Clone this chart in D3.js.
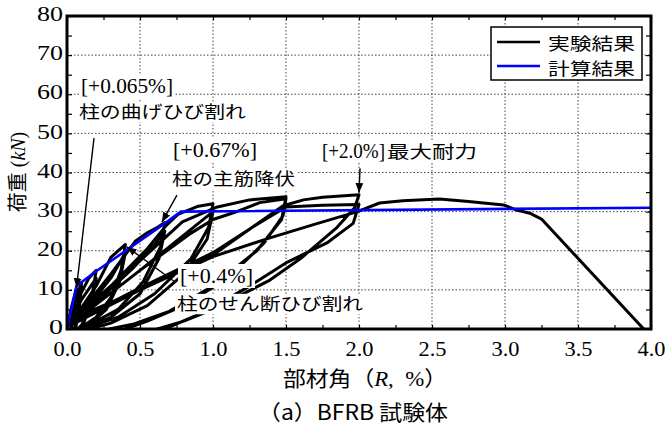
<!DOCTYPE html>
<html>
<head>
<meta charset="utf-8">
<script src="https://cdn.jsdelivr.net/npm/d3@7"></script>
<style>
body { margin: 0; background: #fff; }
</style>
</head>
<body>
<svg id="chart" width="665" height="428"></svg>
<script>
'use strict';

// Experimental hysteresis, one array per loading cycle: [drift R (%), load (kN)]
// points below zero are the negative side of the cycle, they are clipped away
var cyc0065 = [[0,0],[0.03,5.5],[0.065,10.3],[0.05,5],[0.035,1],[0.03,0],[-0.065,-10]];
var cyc010a = [[0,1.5],[0.05,7],[0.1,11.8],[0.08,5],[0.06,1],[0.05,0],[-0.1,-11.5]];
var cyc010b = [[0,1],[0.06,6.5],[0.1,10.8],[0.08,4],[0.06,0.5],[0.05,0],[-0.1,-10.5]];
var cyc020a = [[0,1.5],[0.08,8],[0.15,13],[0.2,15],[0.17,8],[0.12,2],[0.08,0],[-0.2,-14]];
var cyc020b = [[0,1],[0.1,7.5],[0.2,13],[0.16,6],[0.1,1],[0.07,0],[-0.2,-13]];
var cyc040a = [[0,0.5],[0.1,5.5],[0.2,11],[0.3,18.3],[0.4,21.6],[0.37,15],[0.3,8],[0.2,3],[0.1,0.5],[0.06,0],[-0.4,-21]];
var cyc040b = [[0,0.5],[0.15,6],[0.3,13],[0.4,19.5],[0.36,12],[0.27,5],[0.15,1],[0.08,0],[-0.4,-19.5]];
var cyc067a = [[0,1],[0.15,7],[0.3,14],[0.4,19],[0.47,22.5],[0.55,24.6],[0.62,26],[0.67,27.2],[0.64,21],[0.52,12],[0.35,5],[0.15,1],[0.07,0],[-0.67,-27]];
var cyc067b = [[0,0.5],[0.25,8.5],[0.45,15.5],[0.6,21.5],[0.67,25],[0.63,18],[0.5,9],[0.3,3],[0.12,0],[-0.67,-25]];
var cyc100a = [[0,1],[0.3,11],[0.55,20.5],[0.68,26.5],[0.76,29.3],[0.9,31.4],[1.0,32],[0.97,26],[0.85,18],[0.6,9],[0.35,3],[0.09,0],[-1.0,-32]];
var cyc100b = [[0,0.5],[0.5,15],[0.8,24],[1.0,30],[0.96,23],[0.8,14],[0.55,6],[0.3,1.5],[0.15,0],[-1.0,-30]];
var cyc150a = [[0,1],[0.4,14],[0.79,27.4],[1.03,31.2],[1.25,33],[1.5,33.8],[1.47,28],[1.3,20],[1.0,11],[0.7,4.5],[0.45,1.2],[0.29,0],[-1.5,-33]];
var cyc150b = [[0,0.5],[0.5,15],[0.85,24.5],[1.0,28],[1.14,29.7],[1.32,32.3],[1.5,33.3],[1.48,29],[1.35,22],[1.1,13],[0.8,6],[0.55,2],[0.4,0],[-1.5,-31]];
var cyc200a = [[0,0.5],[0.5,10],[0.98,18.4],[1.25,25.5],[1.48,31.5],[1.62,33],[1.75,33.7],[2.0,34.3],[1.97,31],[1.85,26],[1.6,18],[1.39,12.5],[1.0,5],[0.8,2],[0.62,0],[-2.0,-34]];
var cyc200b = [[0,1],[0.5,10.5],[1.0,19.5],[1.27,26],[1.5,31.2],[1.75,31.6],[2.0,31.8],[1.96,27],[1.78,22],[1.51,17.1],[1.23,10.5],[0.95,4.5],[0.67,0],[-2.0,-31]];
var pushOver = [[0,2],[0.5,10],[1.0,18.5],[1.39,23.3],[1.7,26.8],[1.99,30],[2.14,32.2],[2.3,32.8],[2.55,33.2],[2.75,32.6],[2.99,31.7],[3.08,30.4],[3.17,29.6],[3.25,28.1],[3.95,0]];

// Calculated skeleton curve
var calcR = [0, 0.065, 0.19, 0.44, 0.67, 0.78, 4.0];
var calcP = [0, 11, 14.5, 21, 27, 30, 31];

// Axis ticks
var xTicks = [0, 0.5, 1.0, 1.5, 2.0, 2.5, 3.0, 3.5, 4.0];
var yTicks = [0, 10, 20, 30, 40, 50, 60, 70, 80];

var SERIF = '"Liberation Serif", "DejaVu Serif", serif';
var SANS = '"Noto Sans CJK JP", "Noto Sans", sans-serif';

var cycles = [cyc0065, cyc010a, cyc010b, cyc020a, cyc020b, cyc040a, cyc040b,
  cyc067a, cyc067b, cyc100a, cyc100b, cyc150a, cyc150b, cyc200a, cyc200b, pushOver];
var expData = d3.merge(cycles);
var calcData = calcR.map(function(r, i) { return [r, calcP[i]]; });

var svg = d3.select('#chart');
var x = d3.scaleLinear().domain([0, 4]).range([67, 651]);
var y = d3.scaleLinear().domain([0, 80]).range([329, 16]);

svg.append('defs').append('clipPath').attr('id', 'plotClip')
  .append('rect')
  .attr('x', x(0)).attr('y', y(80))
  .attr('width', x(4) - x(0)).attr('height', y(0) - y(80));

// dotted grid
var grid = svg.append('g').attr('stroke', '#444').attr('stroke-width', 1).attr('stroke-dasharray', '1.5,2');
grid.selectAll('.gx').data(xTicks.slice(1, -1)).enter().append('line')
  .attr('x1', x).attr('x2', x).attr('y1', y(0)).attr('y2', y(80));
grid.selectAll('.gy').data(yTicks.slice(1, -1)).enter().append('line')
  .attr('y1', y).attr('y2', y).attr('x1', x(0)).attr('x2', x(4));

// inward minor ticks on all four sides
var xMinor = d3.range(0, 4.001, 0.25);
var yMinor = d3.range(0, 80.001, 5);
function tickOnly(axis, tx, ty) {
  var g = svg.append('g').attr('transform', 'translate(' + tx + ',' + ty + ')').call(axis);
  g.select('.domain').remove();
  g.selectAll('line').attr('stroke', '#000').attr('stroke-width', 1.2);
  return g;
}
tickOnly(d3.axisBottom(x).tickValues(xMinor).tickSize(-4).tickFormat(''), 0, y(0));
tickOnly(d3.axisTop(x).tickValues(xMinor).tickSize(-4).tickFormat(''), 0, y(80));
tickOnly(d3.axisLeft(y).tickValues(yMinor).tickSize(-5).tickFormat(''), x(0), 0);
tickOnly(d3.axisRight(y).tickValues(yMinor).tickSize(-5).tickFormat(''), x(4), 0);

// tick labels (serif, a little wide like the original)
var xAxis = svg.append('g').attr('transform', 'translate(0,' + y(0) + ')')
  .call(d3.axisBottom(x).tickValues(xTicks).tickFormat(d3.format('.1f')).tickSize(0).tickPadding(12));
xAxis.select('.domain').remove();
xAxis.selectAll('text')
  .style('font-family', SERIF).style('font-size', '21px').attr('fill', '#000')
  .attr('textLength', 28).attr('lengthAdjust', 'spacingAndGlyphs');

var yAxis = svg.append('g').attr('transform', 'translate(' + x(0) + ',0)')
  .call(d3.axisLeft(y).tickValues(yTicks).tickSize(0).tickPadding(4));
yAxis.select('.domain').remove();
yAxis.selectAll('text')
  .style('font-family', SERIF).style('font-size', '21px').attr('fill', '#000')
  .attr('dy', '0.22em')
  .attr('textLength', function(d) { return d < 10 ? 14 : 26; })
  .attr('lengthAdjust', 'spacingAndGlyphs');

// curves
var line = d3.line().x(function(d) { return x(d[0]); }).y(function(d) { return y(d[1]); });
var plot = svg.append('g').attr('clip-path', 'url(#plotClip)');
plot.append('path').datum(expData)
  .attr('d', line).attr('fill', 'none').attr('stroke', '#000')
  .attr('stroke-width', 3).attr('stroke-linejoin', 'round');
plot.append('path').datum(calcData)
  .attr('d', line).attr('fill', 'none').attr('stroke', '#0000ff')
  .attr('stroke-width', 2.6);

// frame
svg.append('rect')
  .attr('x', x(0)).attr('y', y(80))
  .attr('width', x(4) - x(0)).attr('height', y(0) - y(80))
  .attr('fill', 'none').attr('stroke', '#000').attr('stroke-width', 3);

// annotation texts on white boxes: [text, x, baseline, width, font, size]
var notes = [
  ['[+0.065%]', 81, 93, 92, SERIF, 20],
  ['柱の曲げひび割れ', 79, 118, 167, SANS, 17],
  ['[+0.67%]', 173, 157, 84, SERIF, 20],
  ['柱の主筋降伏', 172, 185, 123, SANS, 17],
  ['[+2.0%]', 322, 158, 63, SERIF, 20],
  ['最大耐力', 387, 158, 90, SANS, 17],
  ['[+0.4%]', 180, 283, 73, SERIF, 20],
  ['柱のせん断ひび割れ', 177, 310, 186, SANS, 17]
];
var noteG = svg.append('g');
var noteBox = noteG.append('g');
var noteText = noteG.selectAll('text').data(notes).enter().append('text')
  .attr('x', function(d) { return d[1]; })
  .attr('y', function(d) { return d[2]; })
  .attr('textLength', function(d) { return d[3]; })
  .attr('lengthAdjust', 'spacingAndGlyphs')
  .attr('fill', '#000')
  .style('font-family', function(d) { return d[4]; })
  .style('font-size', function(d) { return d[5] + 'px'; })
  .text(function(d) { return d[0]; });
noteText.each(function(d) {
  // box from cap height to just below baseline
  noteBox.append('rect')
    .attr('x', d[1] - 2).attr('y', d[2] - d[5] * 0.95)
    .attr('width', d[3] + 4).attr('height', d[5] * 1.2)
    .attr('fill', '#fff');
});

// annotation arrows (from, to) in data units
svg.append('defs').append('marker').attr('id', 'arr')
  .attr('viewBox', '0 0 10 10').attr('refX', 10).attr('refY', 5)
  .attr('markerWidth', 7).attr('markerHeight', 7).attr('orient', 'auto')
  .append('path').attr('d', 'M0,1L10,5L0,9Z').attr('fill', '#000');
var arrows = [
  [[0.185, 48.8], [0.065, 10.5]],
  [[0.753, 34.2], [0.65, 27.3]],
  [[2.007, 41.1], [2.0, 34.8]],
  [[0.74, 12.0], [0.41, 21.0]]
];
svg.append('g').selectAll('line').data(arrows).enter().append('line')
  .attr('x1', function(d) { return x(d[0][0]); })
  .attr('y1', function(d) { return y(d[0][1]); })
  .attr('x2', function(d) { return x(d[1][0]); })
  .attr('y2', function(d) { return y(d[1][1]); })
  .attr('stroke', '#000').attr('stroke-width', 1.4)
  .attr('marker-end', 'url(#arr)');

// legend
var legend = svg.append('g');
legend.append('rect').attr('x', 491).attr('y', 27).attr('width', 151).attr('height', 53)
  .attr('fill', '#fff').attr('stroke', '#000').attr('stroke-width', 1.5);
var legendItems = [['実験結果', '#000', 42, 49.5], ['計算結果', '#0000ff', 66, 75]];
legend.selectAll('line').data(legendItems).enter().append('line')
  .attr('x1', 497).attr('x2', 540)
  .attr('y1', function(d) { return d[2]; }).attr('y2', function(d) { return d[2]; })
  .attr('stroke', function(d) { return d[1]; }).attr('stroke-width', 2.6);
legend.selectAll('text').data(legendItems).enter().append('text')
  .attr('x', 548).attr('y', function(d) { return d[3]; })
  .attr('textLength', 87).attr('lengthAdjust', 'spacingAndGlyphs')
  .style('font-family', SANS).style('font-size', '17.5px')
  .text(function(d) { return d[0]; });

// axis titles
var yTitle = svg.append('text')
  .attr('transform', 'translate(25,172) rotate(-90)')
  .attr('text-anchor', 'middle');
yTitle.append('tspan').style('font-family', SANS).style('font-size', '20px').text('荷重');
yTitle.append('tspan').style('font-family', SERIF).style('font-size', '20px').text('\u00a0(');
yTitle.append('tspan').style('font-family', SERIF).style('font-size', '20px').style('font-style', 'italic').text('kN');
yTitle.append('tspan').style('font-family', SERIF).style('font-size', '20px').text(')');

var xTitle = svg.append('text')
  .attr('x', 283).attr('y', 386)
  .attr('textLength', 164).attr('lengthAdjust', 'spacingAndGlyphs');
xTitle.append('tspan').style('font-family', SANS).style('font-size', '21px').text('部材角（');
xTitle.append('tspan').style('font-family', SERIF).style('font-size', '21px').style('font-style', 'italic').text('R');
xTitle.append('tspan').style('font-family', SERIF).style('font-size', '21px').text(',\u00a0 %');
xTitle.append('tspan').style('font-family', SANS).style('font-size', '21px').text('）');

svg.append('text')
  .attr('x', 258).attr('y', 420)
  .attr('textLength', 190).attr('lengthAdjust', 'spacingAndGlyphs')
  .style('font-family', SANS).style('font-size', '21px')
  .text('（a）BFRB 試験体');
</script>
</body>
</html>
